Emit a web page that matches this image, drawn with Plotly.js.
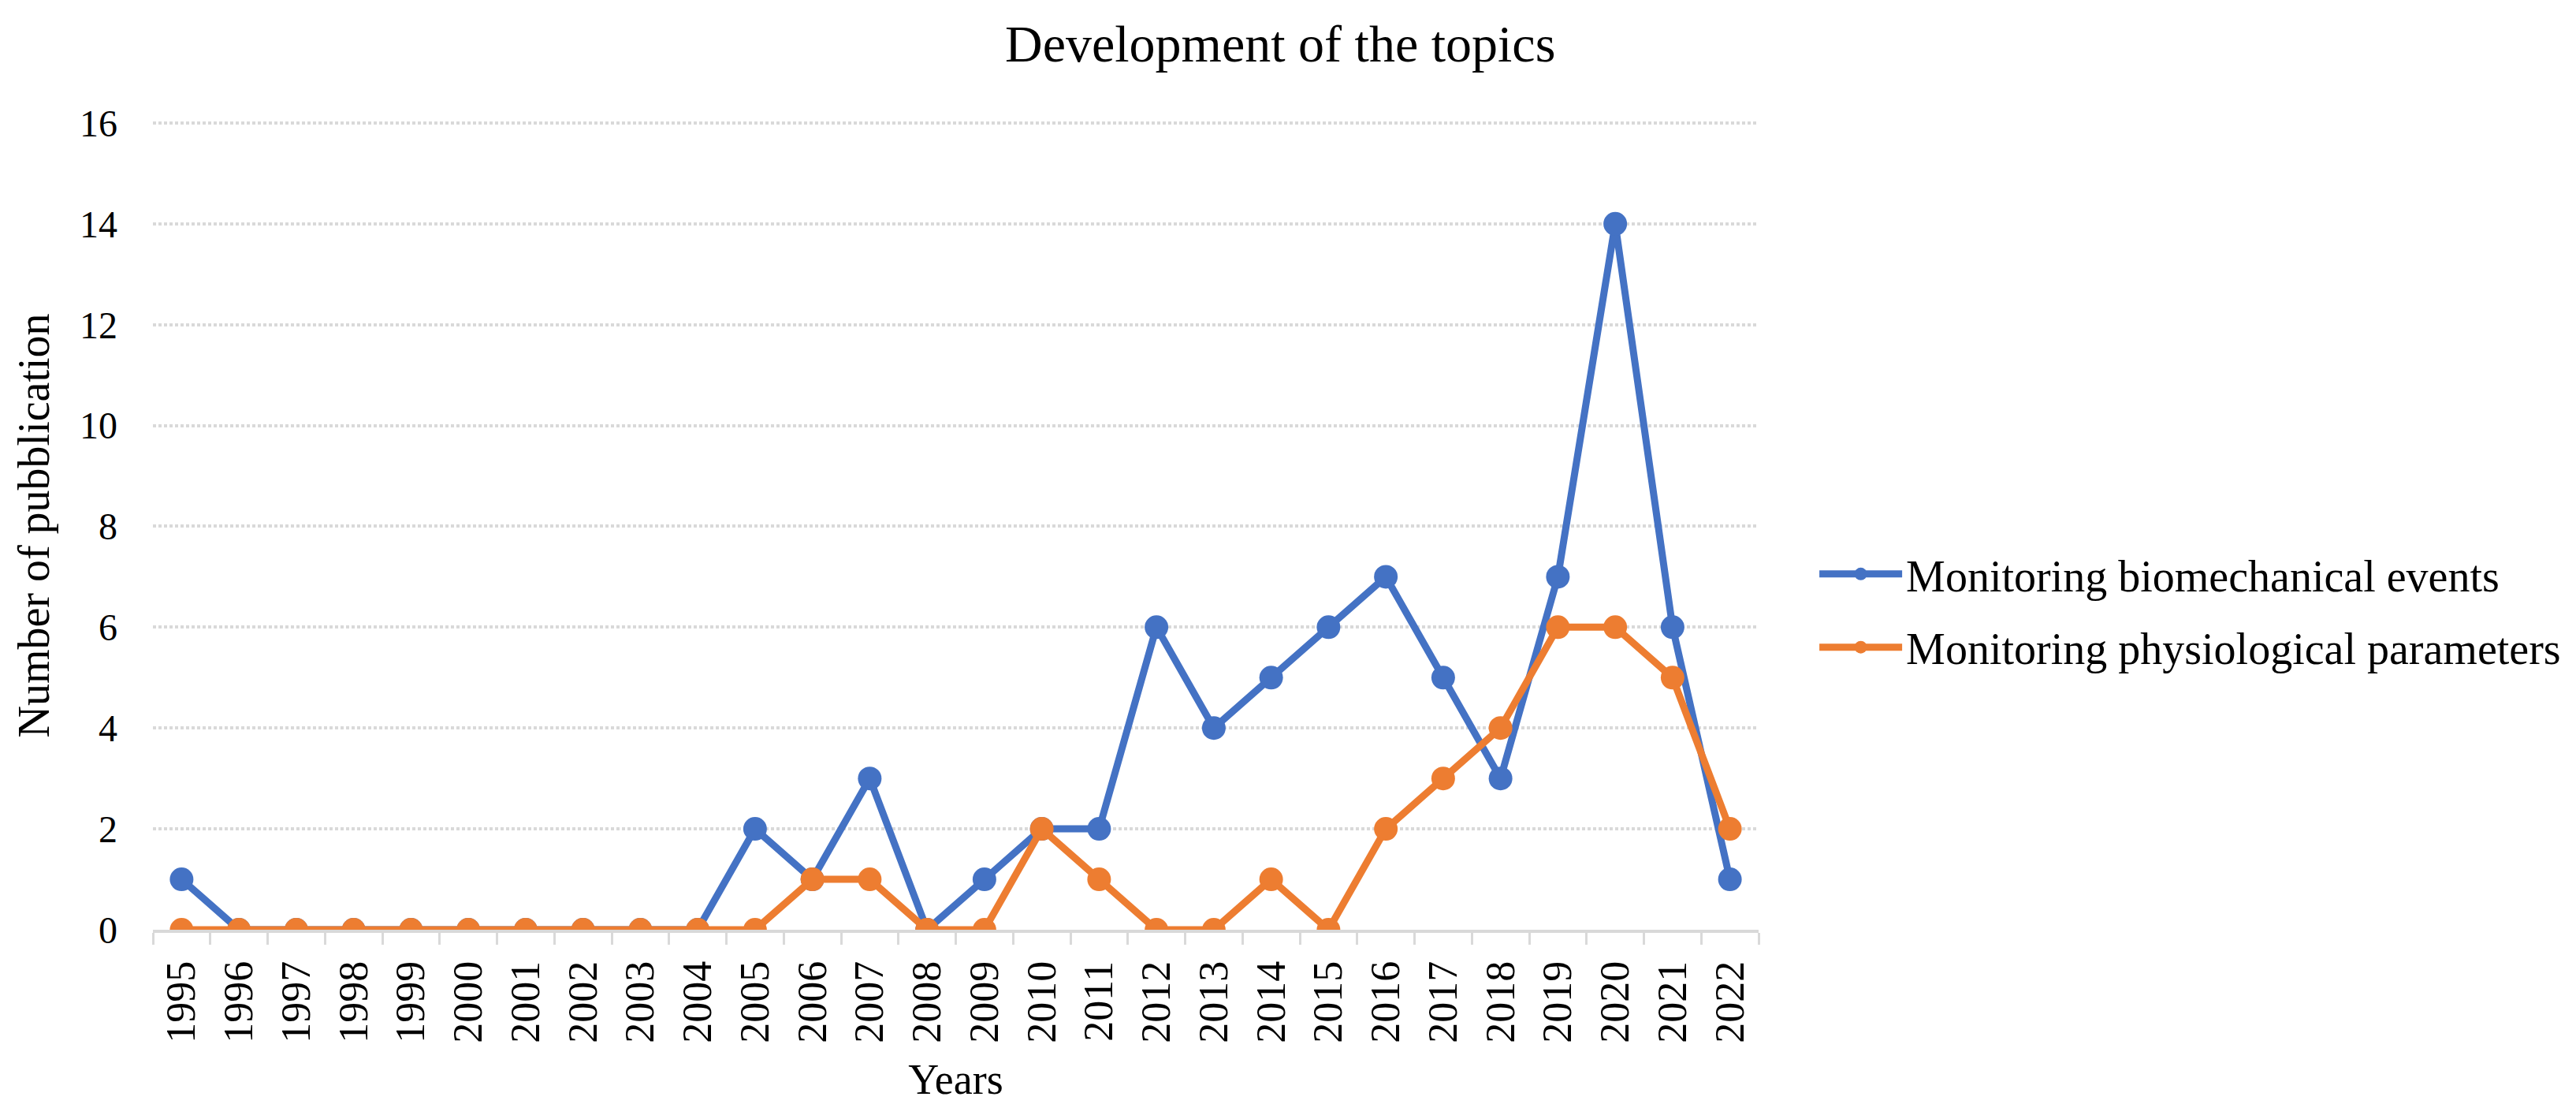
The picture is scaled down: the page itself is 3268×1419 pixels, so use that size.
<!DOCTYPE html>
<html>
<head>
<meta charset="utf-8">
<script src="https://cdn.plot.ly/plotly-3.0.1.min.js"></script>
<style>html,body{margin:0;padding:0;background:#fff;}#chart{width:3268px;height:1419px;}</style>
</head>
<body>
<div id="chart"></div>
<script>
const years = ["1995","1996","1997","1998","1999","2000","2001","2002","2003","2004","2005","2006","2007","2008","2009","2010","2011","2012","2013","2014","2015","2016","2017","2018","2019","2020","2021","2022"];
const biomechanical = [1,0,0,0,0,0,0,0,0,0,2,1,3,0,1,2,2,6,4,5,6,7,5,3,7,14,6,1];
const physiological = [0,0,0,0,0,0,0,0,0,0,0,1,1,0,0,2,1,0,0,1,0,2,3,4,6,6,5,2];
const seriesNames = ["Monitoring biomechanical events","Monitoring physiological parameters"];
const yTicks = [0,2,4,6,8,10,12,14,16];

const FONT = "Liberation Serif, 'Times New Roman', Times, serif";

const traces = [
  {x: years, y: biomechanical, name: seriesNames[0], type: "scatter", mode: "lines+markers",
   legendgroup: "g1",
   line: {color: "#4472C4", width: 9}, marker: {color: "#4472C4", size: 30}},
  {x: years, y: physiological, name: seriesNames[1], type: "scatter", mode: "lines+markers",
   legendgroup: "g2",
   line: {color: "#ED7D31", width: 9}, marker: {color: "#ED7D31", size: 30}}
];

const layout = {
  width: 3268, height: 1419,
  paper_bgcolor: "#ffffff", plot_bgcolor: "#ffffff",
  font: {family: FONT, color: "#000000", size: 52},
  margin: {l: 194, r: 1037, t: 154, b: 240, pad: 0},
  title: {text: "Development of the topics", font: {family: FONT, size: 66, color: "#000"},
          xref: "container", x: 0.497, xanchor: "center", yref: "container", y: 0.961, yanchor: "middle"},
  xaxis: {
    type: "category", range: [-0.5, 27.5], tickson: "boundaries",
    ticks: "outside", ticklen: 15, tickwidth: 3, tickcolor: "#d9d9d9",
    showline: true, linecolor: "#d9d9d9", linewidth: 4, showgrid: false, zeroline: false,
    tickangle: -90, tickfont: {family: FONT, size: 52, color: "#000"}, ticklabelstandoff: 15,
    title: {text: "Years", font: {family: FONT, size: 54, color: "#000"}, standoff: 28},
    automargin: false
  },
  yaxis: {
    range: [0, 16.03], tickvals: yTicks, ticktext: yTicks.map(String),
    showgrid: true, gridcolor: "#d9d9d9", gridwidth: 4, griddash: "4px,3px",
    zeroline: false, showline: false, ticks: "",
    tickfont: {family: FONT, size: 48, color: "#000"}, ticklabelstandoff: 44,
    title: {text: "Number of pubblication", font: {family: FONT, size: 56, color: "#000"}, standoff: 20},
    automargin: false
  },
  legend: {x: 1.0354, xanchor: "left", y: 0.482, yanchor: "top", xref: "paper", yref: "paper",
           font: {family: FONT, size: 56, color: "#000"}, bgcolor: "rgba(0,0,0,0)", itemwidth: 105,
           traceorder: "grouped", tracegroupgap: 17},
  showlegend: true
};

Plotly.newPlot("chart", traces, layout, {staticPlot: true, displayModeBar: false});
</script>
</body>
</html>
